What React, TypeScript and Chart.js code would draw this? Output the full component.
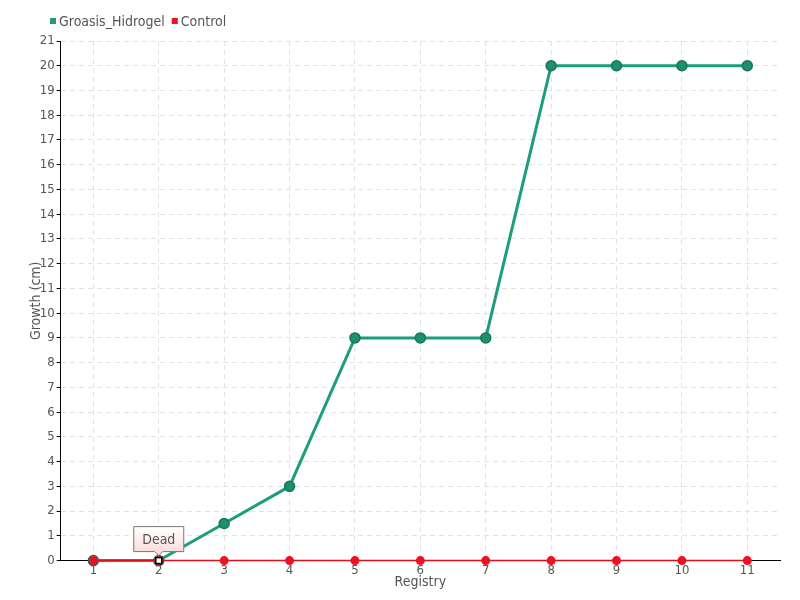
import React, { useEffect, useRef } from "react";
import { Chart, registerables } from "chart.js";

Chart.register(...registerables);

const categories = ["1", "2", "3", "4", "5", "6", "7", "8", "9", "10", "11"];
const groasisValues = [0, 0, 1.5, 3, 9, 9, 9, 20, 20, 20, 20];
const controlValues = [0, 0, 0, 0, 0, 0, 0, 0, 0, 0, 0];
const annotationIndex = 1;
const annotationText = "Dead";

const FONT = "'Liberation Sans Narrow', 'DejaVu Sans Condensed', 'Liberation Sans', sans-serif";

const legendPlugin = {
  id: "customLegend",
  afterDraw(chart: any) {
    const ctx = chart.ctx;
    ctx.save();
    ctx.font = "14px " + FONT;
    ctx.textBaseline = "middle";
    ctx.textAlign = "left";
    let x = 50;
    const y = 21;
    chart.data.datasets.forEach((ds: any) => {
      ctx.fillStyle = ds.backgroundColor;
      ctx.fillRect(x, y - 3, 6, 6);
      x += 9;
      ctx.fillStyle = "#555";
      ctx.fillText(ds.label, x, y + 1);
      x += ctx.measureText(ds.label).width + 7;
    });
    ctx.restore();
  },
};

const deadPlugin = {
  id: "deadLabel",
  afterDatasetsDraw(chart: any) {
    const ctx = chart.ctx;
    const x = chart.scales.x.getPixelForValue(annotationIndex);
    const y = chart.scales.y.getPixelForValue(groasisValues[annotationIndex]);
    ctx.save();
    ctx.fillStyle = "#ffffff";
    ctx.strokeStyle = "#000000";
    ctx.lineWidth = 1.5;
    ctx.fillRect(x - 3, y - 3, 6, 6);
    ctx.strokeRect(x - 3, y - 3, 6, 6);
    const w = 50, h = 25;
    const bx = x - w / 2, by = y - 34;
    const g = ctx.createLinearGradient(0, by, 0, by + h);
    g.addColorStop(0, "#ffffff");
    g.addColorStop(1, "#fcdcdc");
    ctx.beginPath();
    ctx.moveTo(bx, by);
    ctx.lineTo(bx + w, by);
    ctx.lineTo(bx + w, by + h);
    ctx.lineTo(x + 4, by + h);
    ctx.lineTo(x, by + h + 4);
    ctx.lineTo(x - 4, by + h);
    ctx.lineTo(bx, by + h);
    ctx.closePath();
    ctx.fillStyle = g;
    ctx.fill();
    ctx.strokeStyle = "#777777";
    ctx.lineWidth = 1;
    ctx.stroke();
    ctx.fillStyle = "#555555";
    ctx.font = "14px " + FONT;
    ctx.textAlign = "center";
    ctx.textBaseline = "middle";
    ctx.fillText(annotationText, x, by + h / 2 + 1);
    ctx.restore();
  },
};

export default function App() {
  const ref = useRef<HTMLCanvasElement>(null);
  useEffect(() => {
    const chart = new Chart(ref.current!, {
      type: "line",
      data: {
        labels: categories,
        datasets: [
          {
            label: "Groasis_Hidrogel",
            data: groasisValues,
            borderColor: "#1e9c7e",
            backgroundColor: "#1e9c7e",
            borderWidth: 3,
            pointRadius: 5,
            pointBackgroundColor: "#1f8f6c",
            pointBorderColor: "#16775a",
            pointBorderWidth: 1.5,
            tension: 0,
            clip: false,
            order: 1,
          },
          {
            label: "Control",
            data: controlValues,
            borderColor: "#e0101e",
            backgroundColor: "#ee1122",
            borderWidth: 1.5,
            pointRadius: 4.5,
            pointBackgroundColor: "#ee1122",
            pointBorderColor: "#ee1122",
            pointBorderWidth: 0,
            tension: 0,
            clip: false,
            order: 0,
          },
        ],
      },
      options: {
        animation: false,
        responsive: false,
        layout: { padding: { left: 28, right: 20, top: 41, bottom: 6 } },
        plugins: {
          tooltip: { enabled: false },
          legend: { display: false },
        },
        scales: {
          x: {
            offset: true,
            grid: {
              offset: false,
              color: "#e2e2e2",
              drawTicks: false,
            },
            border: { color: "#000", width: 1, dash: [5, 4] },
            ticks: { color: "#555", font: { family: FONT, size: 13 }, padding: 2 },
            title: {
              display: true,
              text: "Registry",
              color: "#555",
              font: { family: FONT, size: 14 },
              padding: { top: -6, bottom: 3 },
            },
          },
          y: {
            min: 0,
            max: 21,
            grid: {
              color: "#e2e2e2",
              tickColor: "#000",
              tickLength: 4,
            },
            border: { color: "#000", width: 1, dash: [5, 4] },
            ticks: { stepSize: 1, color: "#555", font: { family: FONT, size: 13 }, padding: 2 },
            title: {
              display: true,
              text: "Growth (cm)",
              color: "#555",
              font: { family: FONT, size: 14 },
              padding: { top: 0, bottom: -7 },
            },
          },
        },
      },
      plugins: [deadPlugin, legendPlugin],
    });
    return () => chart.destroy();
  }, []);
  return (
    <div style={{ position: "fixed", left: 0, top: 0, width: 800, height: 600, background: "#fff" }}>
      <canvas ref={ref} width={800} height={600} />
    </div>
  );
}
